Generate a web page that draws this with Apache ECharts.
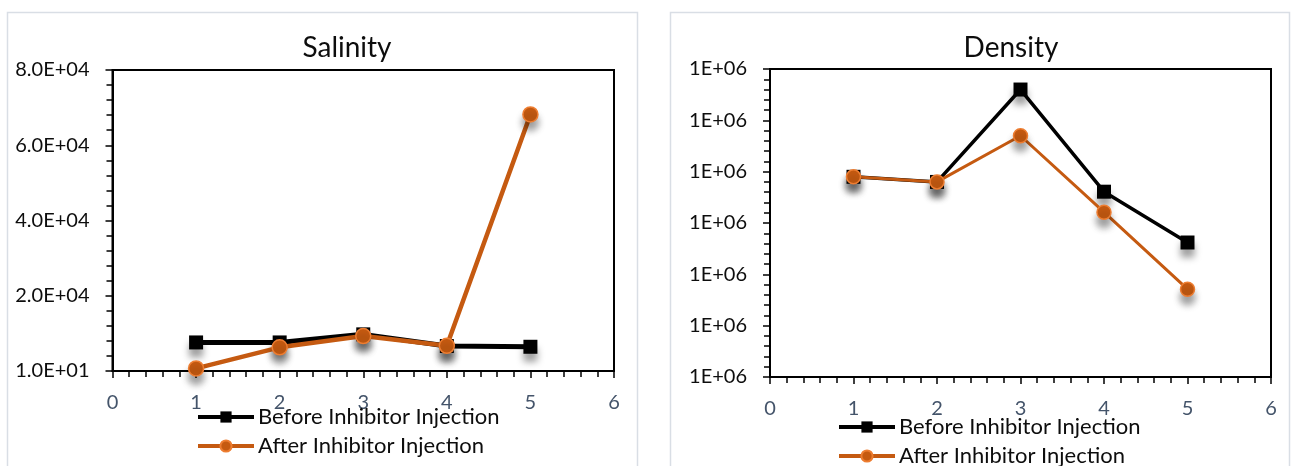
<!DOCTYPE html>
<html>
<head>
<meta charset="utf-8">
<style>
html,body{margin:0;padding:0;background:#fff;}
#c{width:1298px;height:466px;}
</style>
<script src="https://cdn.jsdelivr.net/npm/echarts@6/dist/echarts.min.js"></script>
</head>
<body>
<div id="c"></div>
<script>
// ---- data ----
const xValues = [1, 2, 3, 4, 5];
const seriesNames = ['Before Inhibitor Injection', 'After Inhibitor Injection'];
const salinityBefore = [7600, 7600, 9750, 6650, 6450];
const salinityAfter  = [700, 6300, 9300, 6700, 68200];
const densityBefore  = [1039000, 1038000, 1056000, 1036100, 1026200];
const densityAfter   = [1039000, 1038000, 1047000, 1032100, 1017100];
const titles = ['Salinity', 'Density'];

const FONT = 'Lato';
const BLACK = '#000000';
const ORANGE = '#C55A11';
const ORANGE_EDGE = '#ED7D31';

function expFmt(digits) {
  return function (v) {
    const s = Number(v).toExponential(digits).toUpperCase();
    return s.replace(/E([+-])(\d)$/, 'E$10$2');
  };
}
function pairs(vals) { return xValues.map((x, i) => [x, vals[i]]); }

const shadow = { shadowColor: 'rgba(0,0,0,0.38)', shadowBlur: 7, shadowOffsetY: 8 };

function xAxis(gi) {
  return {
    gridIndex: gi, type: 'value', min: 0, max: 6, interval: 1,
    axisLine: { show: true, onZero: false, lineStyle: { color: BLACK, width: 2 } },
    axisTick: { show: true, length: 7, lineStyle: { color: BLACK, width: 1.5 } },
    minorTick: { show: true, splitNumber: 5, length: 6, lineStyle: { color: BLACK, width: 1.5 } },
    splitLine: { show: false },
    axisLabel: { color: '#44546A', fontFamily: FONT, fontSize: 20, margin: 22 }
  };
}
function yAxisBase(gi) {
  return {
    gridIndex: gi, type: 'value',
    axisLine: { show: true, lineStyle: { color: BLACK, width: 2 } },
    axisTick: { show: true, length: 7, lineStyle: { color: BLACK, width: 1.5 } },
    minorTick: { show: true, splitNumber: 5, length: 6, lineStyle: { color: BLACK, width: 1.5 } },
    splitLine: { show: false },
    axisLabel: { color: '#0D0D0D', fontFamily: FONT, fontSize: 20, margin: 23 }
  };
}

const yLeft = Object.assign(yAxisBase(0), { min: 10, max: 80010, interval: 20000 });
yLeft.axisLabel.formatter = expFmt(1);
const yRight = Object.assign(yAxisBase(1), { min: 1000000, max: 1060000, interval: 10000 });
yRight.axisLabel.formatter = expFmt(0);

function beforeSeries(xi, data, lw, sym) {
  return {
    name: seriesNames[0], type: 'line', xAxisIndex: xi, yAxisIndex: xi,
    data: data, symbol: 'rect', symbolSize: sym, z: 2,
    lineStyle: { color: BLACK, width: lw },
    itemStyle: Object.assign({ color: BLACK }, shadow)
  };
}
function afterSeries(xi, data, lw, sym) {
  return {
    name: seriesNames[1], type: 'line', xAxisIndex: xi, yAxisIndex: xi,
    data: data, symbol: 'circle', symbolSize: sym, z: 3,
    lineStyle: { color: ORANGE, width: lw },
    itemStyle: Object.assign({ color: ORANGE, borderColor: ORANGE_EDGE, borderWidth: 1.5 }, shadow)
  };
}

const legendCommon = {
  orient: 'vertical', itemWidth: 56, itemHeight: 14, itemGap: 7, padding: 0,
  height: 60,
  lineStyle: { width: 4 },
  itemStyle: { shadowBlur: 0, shadowOffsetY: 0, shadowColor: 'transparent' },
  textStyle: { color: '#0D0D0D', fontFamily: FONT, fontSize: 22, lineHeight: 20, padding: [0, 0, 0, -1] },
  data: seriesNames
};

const chart = echarts.init(document.getElementById('c'), null, { renderer: 'canvas' });
chart.setOption({
  animation: false,
  backgroundColor: '#ffffff',
  graphic: [
    { type: 'rect', shape: { x: 7.5, y: 12.5, width: 630, height: 470 },
      style: { fill: 'none', stroke: '#D9DEE5', lineWidth: 1.5 }, silent: true, z: -10 },
    { type: 'rect', shape: { x: 670.5, y: 12.5, width: 619, height: 470 },
      style: { fill: 'none', stroke: '#D9DEE5', lineWidth: 1.5 }, silent: true, z: -10 }
  ],
  title: [
    { text: titles[0], left: 342, top: 29, textAlign: 'center',
      textStyle: { fontFamily: FONT, fontSize: 28, fontWeight: 'normal', color: '#0D0D0D' } },
    { text: titles[1], left: 1006, top: 29, textAlign: 'center',
      textStyle: { fontFamily: FONT, fontSize: 28, fontWeight: 'normal', color: '#0D0D0D' } }
  ],
  legend: [
    Object.assign({}, legendCommon, { left: 196, top: 406 }),
    Object.assign({}, legendCommon, { left: 837, top: 416 })
  ],
  grid: [
    { left: 112.5, top: 70, width: 501.5, height: 301, show: true, borderColor: BLACK, borderWidth: 2, backgroundColor: 'transparent' },
    { left: 770, top: 69, width: 501, height: 308, show: true, borderColor: BLACK, borderWidth: 2, backgroundColor: 'transparent' }
  ],
  xAxis: [xAxis(0), xAxis(1)],
  yAxis: [yLeft, yRight],
  series: [
    beforeSeries(0, pairs(salinityBefore), 5, 14),
    afterSeries(0, pairs(salinityAfter), 4.5, 15),
    beforeSeries(1, pairs(densityBefore), 3.5, 14),
    afterSeries(1, pairs(densityAfter), 3, 14)
  ]
});
</script>
</body>
</html>
